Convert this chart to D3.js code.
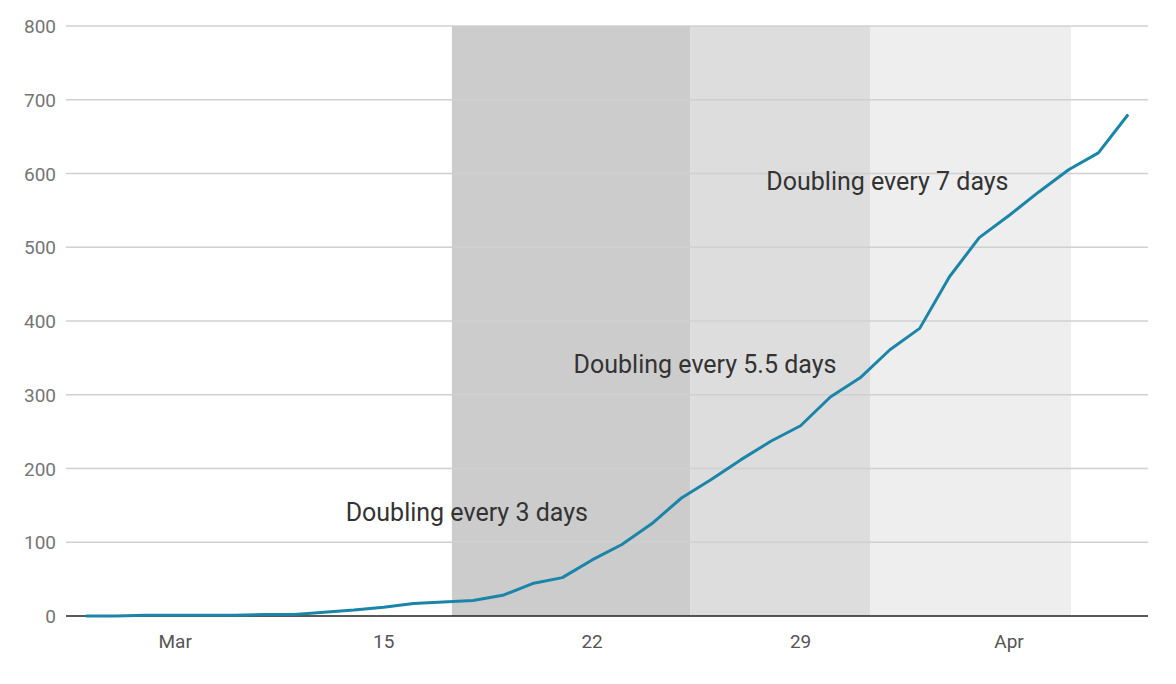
<!DOCTYPE html>
<html><head><meta charset="utf-8">
<script src="https://cdn.jsdelivr.net/npm/d3@7"></script>
<style>body{margin:0;background:#fff}text{font-family:Roboto,sans-serif}</style>
</head><body><svg width="1176" height="684"></svg>
<script>
// daily cumulative values, Mar 5 .. Apr 9
var startDate = new Date(2020, 2, 5);
var values = [0,0,1,1,1,1,2,2,5,8,12,17,19,21,28,44,52,76,97,125,160,185,212,237,258,297,323,361,390,460,513,543,575,605,628,680];
var bands = [
    { from: "2020-03-17T07:00", to: "2020-03-25T07:00", fill: "#cccccc" },
    { from: "2020-03-25T07:00", to: "2020-03-31T08:00", fill: "#dddddd" },
    { from: "2020-03-31T08:00", to: "2020-04-07T02:00", fill: "#eeeeee" }
];
var notes = [
    { text: "Doubling every 3 days", day: "2020-03-17T19:00", v: 129 },
    { text: "Doubling every 5.5 days", day: "2020-03-25T19:00", v: 329 },
    { text: "Doubling every 7 days", day: "2020-03-31T22:00", v: 578 }
];
var yTicks = [0,100,200,300,400,500,600,700,800];
var xTicks = ["2020-03-08","2020-03-15","2020-03-22","2020-03-29","2020-04-05"];
var xLabels = ["Mar","15","22","29","Apr"];

var data = values.map((v, i) => ({ date: d3.timeDay.offset(startDate, i), v: v }));

var svg = d3.select("svg");
var scX = d3.scaleTime()
    .domain([new Date(2020,2,4,8), new Date(2020,3,9,16)])
    .range([66, 1148]);
var scY = d3.scaleLinear().domain([0, 800]).range([616, 26]);

svg.append("g").selectAll("rect").data(bands).enter().append("rect")
    .attr("x", d => scX(new Date(d.from)))
    .attr("width", d => scX(new Date(d.to)) - scX(new Date(d.from)))
    .attr("y", scY(800)).attr("height", scY(0) - scY(800))
    .attr("fill", d => d.fill);

svg.append("g").selectAll("line").data(yTicks.slice(1)).enter().append("line")
    .attr("x1", 66).attr("x2", 1148)
    .attr("y1", d => scY(d)).attr("y2", d => scY(d))
    .attr("stroke", "#d0d0d0").attr("stroke-width", 1.5);

svg.append("g").selectAll("text").data(yTicks).enter().append("text")
    .attr("x", 56).attr("y", d => scY(d) + 7)
    .attr("text-anchor", "end").attr("fill", "#757575").attr("font-size", 19)
    .text(d => d);

svg.append("line").attr("x1", 66).attr("x2", 1148)
    .attr("y1", scY(0)).attr("y2", scY(0)).attr("stroke", "#222").attr("stroke-width", 1.5);

svg.append("g").selectAll("text").data(xTicks).enter().append("text")
    .attr("x", d => scX(new Date(d + "T00:00")))
    .attr("y", 648).attr("text-anchor", "middle")
    .attr("fill", "#555").attr("font-size", 19)
    .text((d, i) => xLabels[i]);

svg.append("path")
    .attr("fill", "none").attr("stroke", "#1a85a8").attr("stroke-width", 3)
    .attr("stroke-linejoin", "round")
    .attr("d", d3.line().x(d => scX(d.date)).y(d => scY(d.v))(data));

svg.append("g").selectAll("text").data(notes).enter().append("text")
    .attr("x", d => scX(new Date(d.day))).attr("y", d => scY(d.v))
    .attr("text-anchor", "middle").attr("fill", "#333").attr("font-size", 25)
    .text(d => d.text);
</script></body></html>
